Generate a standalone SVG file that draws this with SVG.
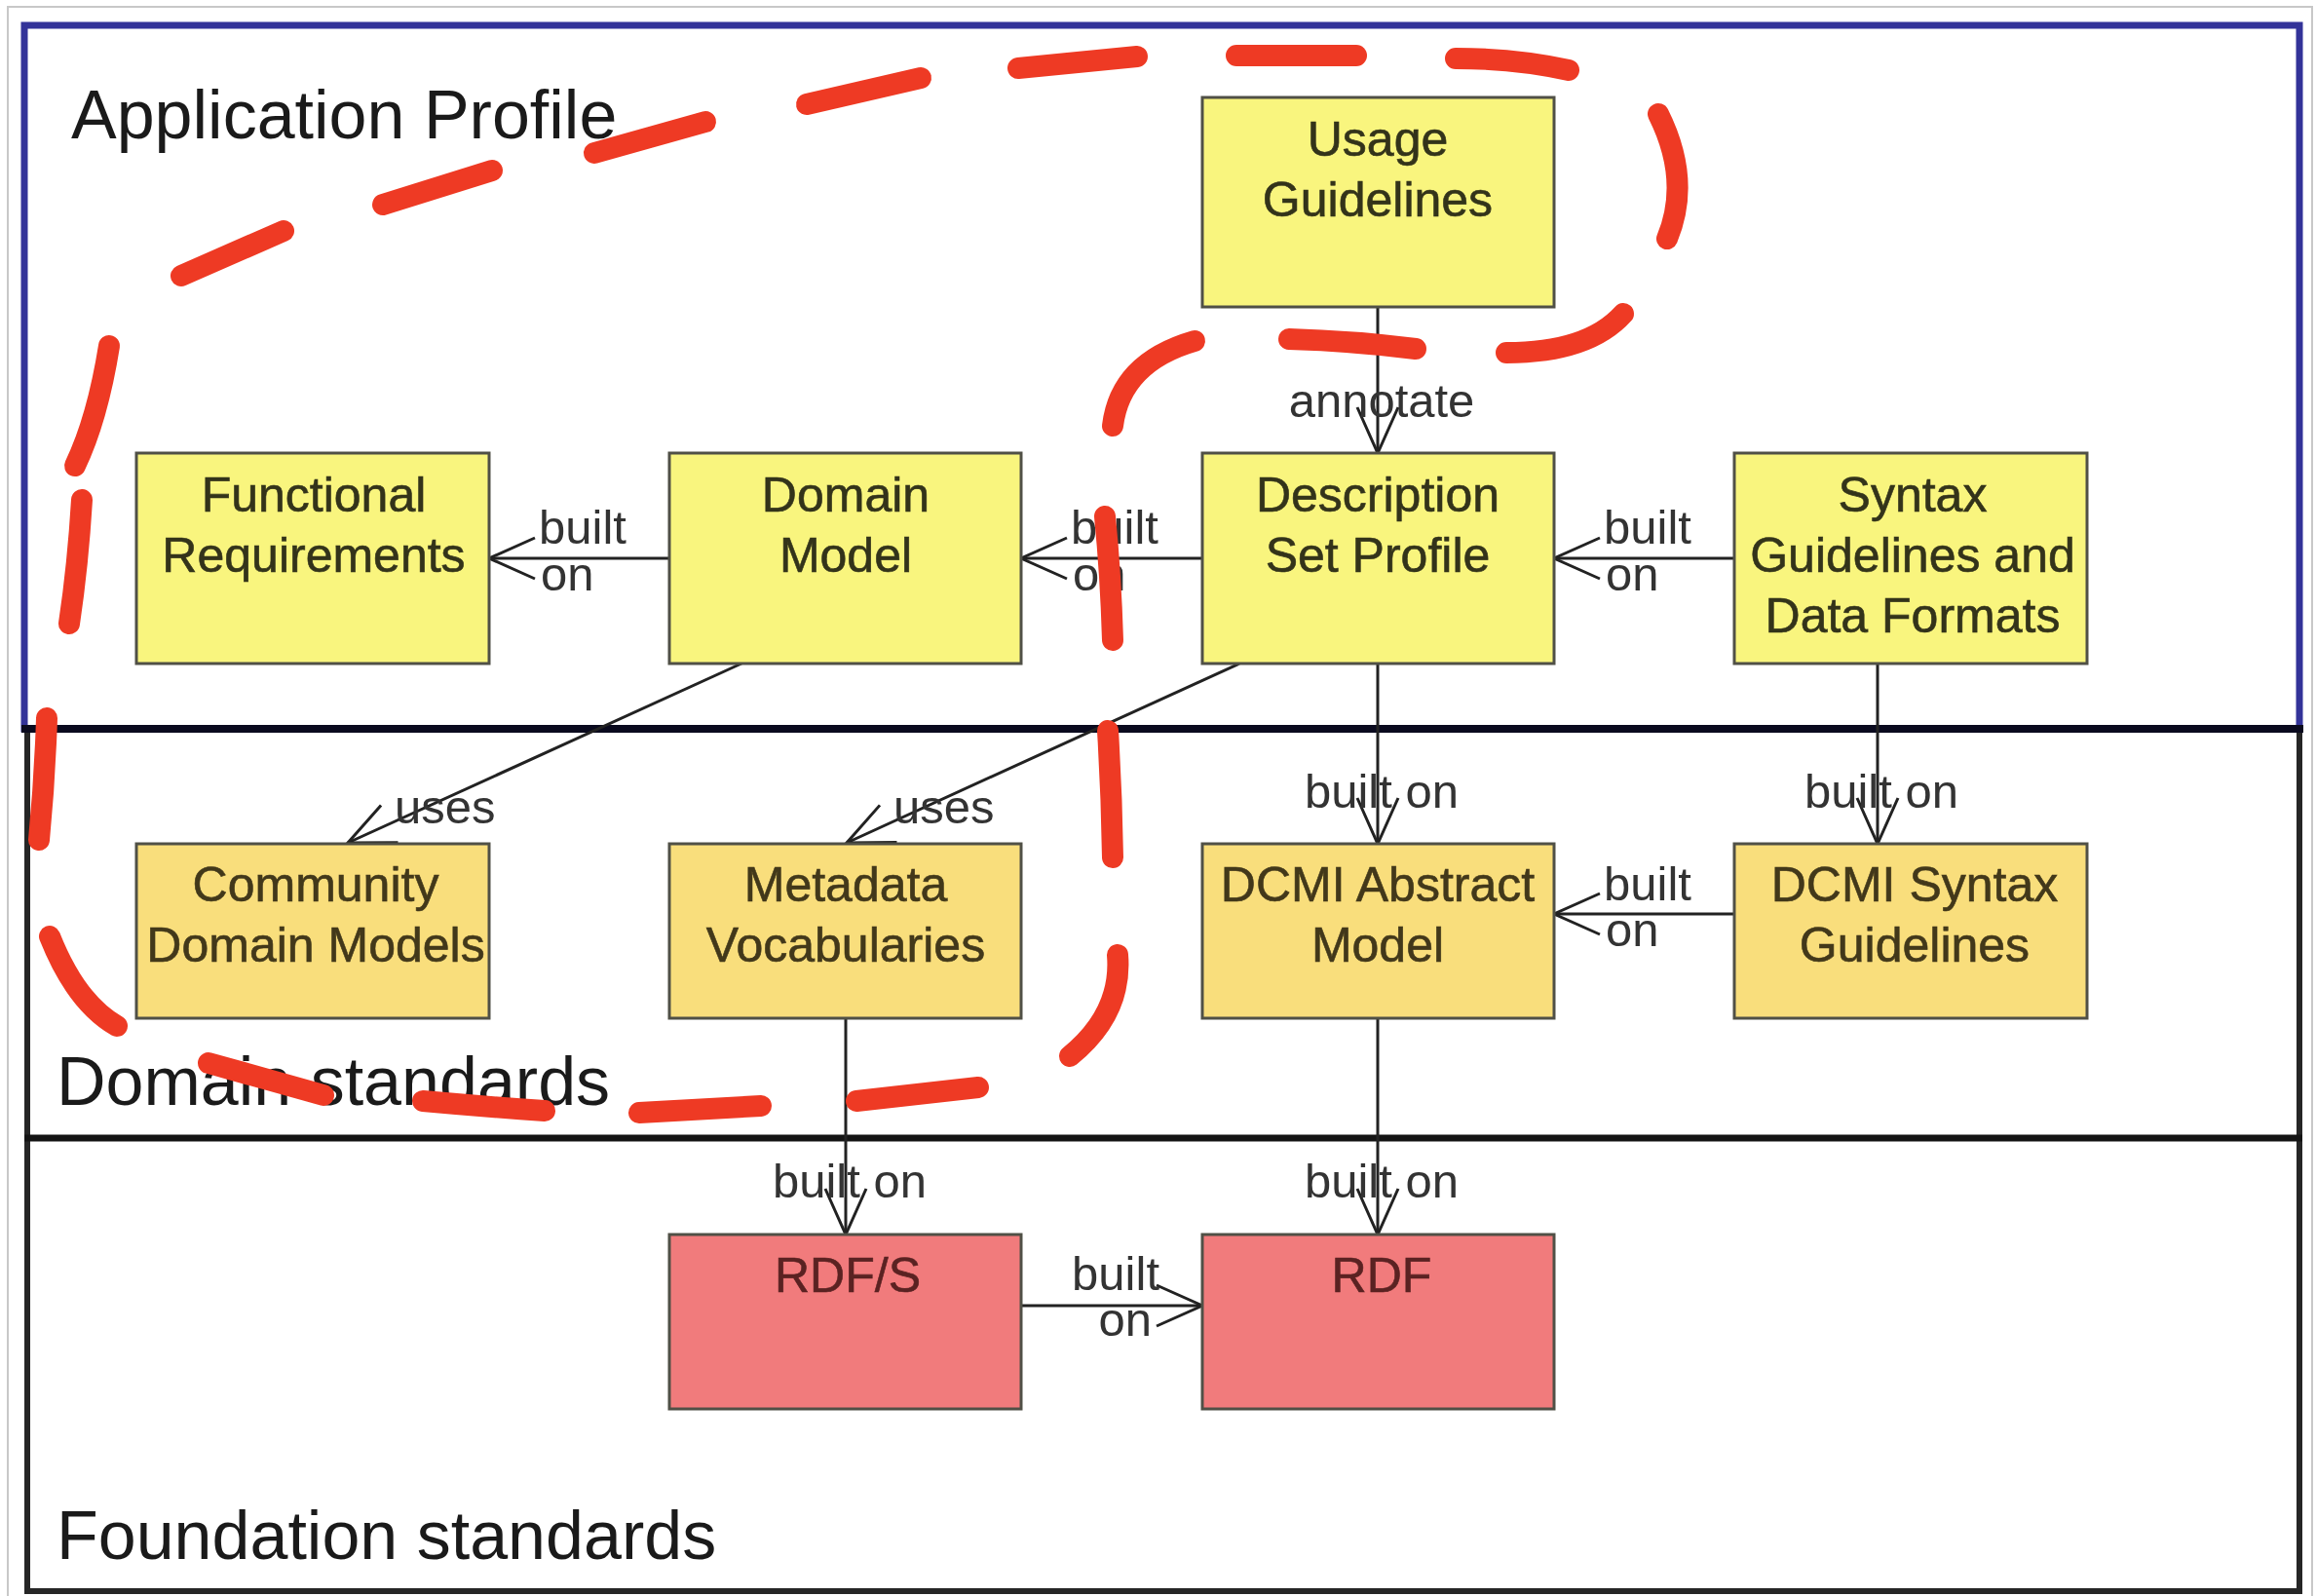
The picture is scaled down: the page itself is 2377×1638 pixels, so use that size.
<svg xmlns="http://www.w3.org/2000/svg" width="2377" height="1638" viewBox="0 0 2377 1638">
<defs>
<style>
.box{stroke:#505046;stroke-width:3}
.y1{fill:#F9F57E}
.y2{fill:#F9DE7C}
.r3{fill:#F17B7C}
.bt{font-family:"Liberation Sans",Arial,sans-serif;font-size:50px;text-anchor:middle;fill:#33331a;stroke:#33331a;stroke-width:0.6}
.bt2{fill:#42381a;stroke:#42381a}
.bt3{fill:#5a2222;stroke:#5a2222}
.lbl{font-family:"Liberation Sans",Arial,sans-serif;font-size:49px;fill:#333}
.sec{font-family:"Liberation Sans",Arial,sans-serif;font-size:70px;fill:#1a1a1a}
.con{stroke:#222;stroke-width:3;fill:none}
.red{stroke:#EE3A24;stroke-width:22;fill:none;stroke-linecap:round;stroke-linejoin:round}
</style>
<marker id="arr" viewBox="-52 -26 56 52" markerWidth="56" markerHeight="52" refX="0" refY="0" orient="auto" markerUnits="userSpaceOnUse">
<path d="M-47,-21 L0,0 L-47,21" fill="none" stroke="#222" stroke-width="3"/>
</marker>
</defs>
<rect width="2377" height="1638" fill="#ffffff"/>
<rect x="8" y="7" width="2365" height="1640" fill="none" stroke="#c8c8c8" stroke-width="2"/>

<g id="sections">
<rect x="28" y="748" width="2332" height="885" fill="none" stroke="#262626" stroke-width="6"/>
<rect x="25" y="26" width="2335" height="722" fill="none" stroke="#333399" stroke-width="7"/>
<line x1="22" y1="748" x2="2364" y2="748" stroke="#0a0a1e" stroke-width="8"/>
<line x1="25" y1="1168" x2="2363" y2="1168" stroke="#141414" stroke-width="7"/>
<text class="sec" x="73" y="142">Application Profile</text>
<text class="sec" x="58" y="1134">Domain standards</text>
<text class="sec" x="58" y="1600">Foundation standards</text>
</g>

<g id="connectors">
<line class="con" x1="1414" y1="315" x2="1414" y2="465" marker-end="url(#arr)"/>
<line class="con" x1="687" y1="573" x2="502" y2="573" marker-end="url(#arr)"/>
<line class="con" x1="1234" y1="573" x2="1048" y2="573" marker-end="url(#arr)"/>
<line class="con" x1="1780" y1="573" x2="1595" y2="573" marker-end="url(#arr)"/>
<line class="con" x1="761" y1="681" x2="357" y2="865" marker-end="url(#arr)"/>
<line class="con" x1="1272" y1="681" x2="869" y2="865" marker-end="url(#arr)"/>
<line class="con" x1="1414" y1="681" x2="1414" y2="866" marker-end="url(#arr)"/>
<line class="con" x1="1927" y1="681" x2="1927" y2="866" marker-end="url(#arr)"/>
<line class="con" x1="1780" y1="938" x2="1595" y2="938" marker-end="url(#arr)"/>
<line class="con" x1="868" y1="1045" x2="868" y2="1267" marker-end="url(#arr)"/>
<line class="con" x1="1414" y1="1045" x2="1414" y2="1267" marker-end="url(#arr)"/>
<line class="con" x1="1048" y1="1340" x2="1234" y2="1340" marker-end="url(#arr)"/>
<text class="lbl" x="1418" y="428" text-anchor="middle">annotate</text>
<text class="lbl" x="553" y="558">built</text>
<text class="lbl" x="555" y="606">on</text>
<text class="lbl" x="1099" y="558">built</text>
<text class="lbl" x="1101" y="606">on</text>
<text class="lbl" x="1646" y="558">built</text>
<text class="lbl" x="1648" y="606">on</text>
<text class="lbl" x="405" y="845">uses</text>
<text class="lbl" x="917" y="845">uses</text>
<text class="lbl" x="1418" y="829" text-anchor="middle">built on</text>
<text class="lbl" x="1931" y="829" text-anchor="middle">built on</text>
<text class="lbl" x="1646" y="924">built</text>
<text class="lbl" x="1648" y="971">on</text>
<text class="lbl" x="872" y="1229" text-anchor="middle">built on</text>
<text class="lbl" x="1418" y="1229" text-anchor="middle">built on</text>
<text class="lbl" x="1190" y="1324" text-anchor="end">built</text>
<text class="lbl" x="1182" y="1371" text-anchor="end">on</text>
</g>

<g id="usage-guidelines">
<rect class="box y1" x="1234" y="100" width="361" height="215"/>
<text class="bt" x="1414" y="160">Usage</text>
<text class="bt" x="1414" y="222">Guidelines</text>
</g>
<g id="functional-requirements">
<rect class="box y1" x="140" y="465" width="362" height="216"/>
<text class="bt" x="322" y="525">Functional</text>
<text class="bt" x="322" y="587">Requirements</text>
</g>
<g id="domain-model">
<rect class="box y1" x="687" y="465" width="361" height="216"/>
<text class="bt" x="868" y="525">Domain</text>
<text class="bt" x="868" y="587">Model</text>
</g>
<g id="description-set-profile">
<rect class="box y1" x="1234" y="465" width="361" height="216"/>
<text class="bt" x="1414" y="525">Description</text>
<text class="bt" x="1414" y="587">Set Profile</text>
</g>
<g id="syntax-guidelines">
<rect class="box y1" x="1780" y="465" width="362" height="216"/>
<text class="bt" x="1963" y="525">Syntax</text>
<text class="bt" x="1963" y="587">Guidelines and</text>
<text class="bt" x="1963" y="649">Data Formats</text>
</g>
<g id="community-domain-models">
<rect class="box y2" x="140" y="866" width="362" height="179"/>
<text class="bt bt2" x="324" y="925">Community</text>
<text class="bt bt2" x="324" y="987">Domain Models</text>
</g>
<g id="metadata-vocabularies">
<rect class="box y2" x="687" y="866" width="361" height="179"/>
<text class="bt bt2" x="868" y="925">Metadata</text>
<text class="bt bt2" x="868" y="987">Vocabularies</text>
</g>
<g id="dcmi-abstract-model">
<rect class="box y2" x="1234" y="866" width="361" height="179"/>
<text class="bt bt2" x="1414" y="925">DCMI Abstract</text>
<text class="bt bt2" x="1414" y="987">Model</text>
</g>
<g id="dcmi-syntax-guidelines">
<rect class="box y2" x="1780" y="866" width="362" height="179"/>
<text class="bt bt2" x="1965" y="925">DCMI Syntax</text>
<text class="bt bt2" x="1965" y="987">Guidelines</text>
</g>
<g id="rdfs">
<rect class="box r3" x="687" y="1267" width="361" height="179"/>
<text class="bt bt3" x="870" y="1326">RDF/S</text>
</g>
<g id="rdf">
<rect class="box r3" x="1234" y="1267" width="361" height="179"/>
<text class="bt bt3" x="1418" y="1326">RDF</text>
</g>

<g id="red-outline">
<path class="red" d="M1702,117 Q1736,185 1711,245"/>
<path class="red" d="M1666,322 Q1630,362 1546,362"/>
<path class="red" d="M1453,358 Q1390,350 1323,348"/>
<path class="red" d="M1226,350 Q1150,372 1142,437"/>
<path class="red" d="M1134,530 Q1140,590 1142,657"/>
<path class="red" d="M1137,750 Q1141,815 1142,880"/>
<path class="red" d="M1147,980 Q1152,1040 1098,1084"/>
<path class="red" d="M1004,1116 L879,1130"/>
<path class="red" d="M781,1135 L656,1142"/>
<path class="red" d="M559,1140 Q500,1136 434,1130"/>
<path class="red" d="M332,1124 L214,1091"/>
<path class="red" d="M120,1053 Q78,1029 51,961"/>
<path class="red" d="M40,862 Q46,800 48,737"/>
<path class="red" d="M71,640 Q80,580 84,513"/>
<path class="red" d="M77,478 Q100,430 112,355"/>
<path class="red" d="M186,283 L291,237"/>
<path class="red" d="M393,210 L505,175"/>
<path class="red" d="M610,157 L724,125"/>
<path class="red" d="M828,107 L945,80"/>
<path class="red" d="M1045,70 L1167,58"/>
<path class="red" d="M1269,57 L1392,57"/>
<path class="red" d="M1494,60 Q1555,60 1610,72"/>
</g>
</svg>
